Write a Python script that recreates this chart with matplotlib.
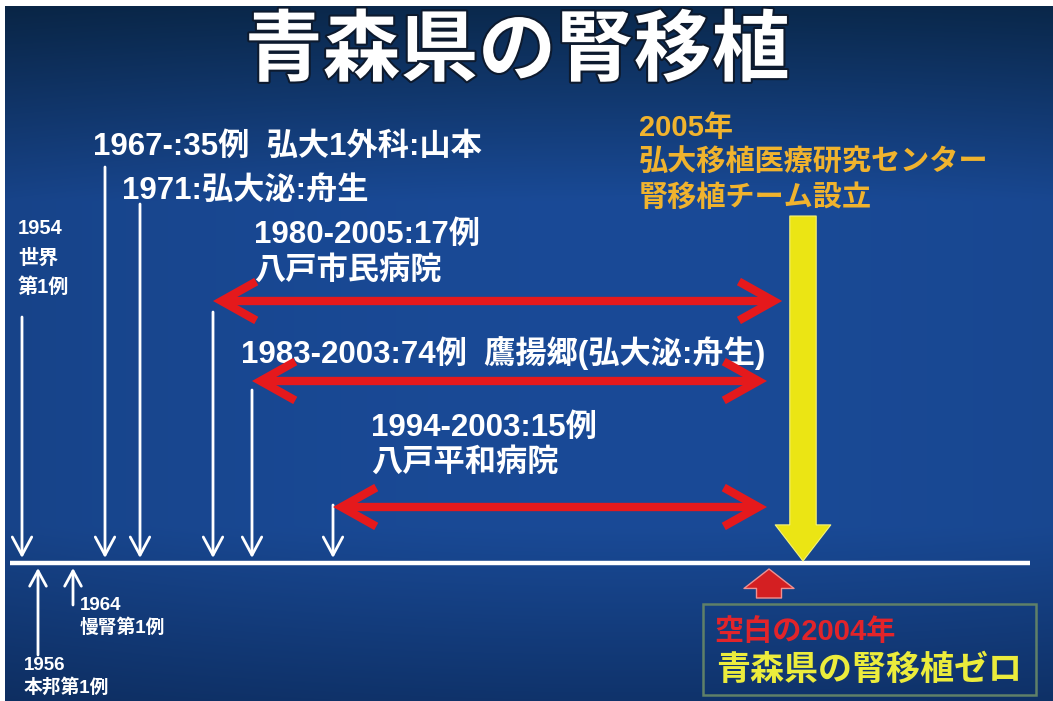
import numpy as np
import matplotlib
matplotlib.use("Agg")
import matplotlib.pyplot as plt
from matplotlib.patches import Rectangle
import matplotlib.patheffects as pe

plt.rcParams['font.family'] = ['Liberation Sans', 'Noto Sans CJK JP', 'DejaVu Sans']
CJK = ['Noto Sans CJK JP', 'DejaVu Sans']

# ---------------- data ----------------
title = "青森県の腎移植"
down_years = [1954, 1967, 1971, 1980, 1983, 1994]
up_years = [1956, 1964]
span_starts = [1980, 1983, 1994]
span_ends = [2005, 2003, 2003]
team_year = 2005
gap_year = 2004

label_1954 = ["1954", "世界", "第1例"]
label_1967 = "1967-:35例  弘大1外科:山本"
label_1971 = "1971:弘大泌:舟生"
label_1980 = ["1980-2005:17例", "八戸市民病院"]
label_1983 = "1983-2003:74例  鷹揚郷(弘大泌:舟生)"
label_1994 = ["1994-2003:15例", "八戸平和病院"]
label_1956 = ["1956", "本邦第1例"]
label_1964 = ["1964", "慢腎第1例"]
label_2005 = ["2005年", "弘大移植医療研究センター", "腎移植チーム設立"]
label_gap = "空白の2004年"
label_zero = "青森県の腎移植ゼロ"

# ---------------- timeline scale (non-proportional slide timeline) ----------------
knot_year = np.array([1940, 1954, 1956, 1964, 1967, 1971, 1980, 1983, 1994, 2003, 2004, 2005, 2030], float)
knot_pos = np.array([-90, 22, 38, 73, 105, 140, 213, 252, 333, 767, 769, 803, 1200], float)

def fwd(y):
    return np.interp(y, knot_year, knot_pos)

def inv(p):
    return np.interp(p, knot_pos, knot_year)

W, H = 1053, 701
fig = plt.figure(figsize=(W / 100, H / 100), dpi=100, facecolor='white')

# background axes in pixel coordinates
bg = fig.add_axes([0, 0, 1, 1])
bg.set_xlim(0, W)
bg.set_ylim(H, 0)
bg.axis('off')

ny, nx = 350, 520
yy, xx = np.mgrid[0:1:ny * 1j, 0:1:nx * 1j]
top = np.array([0.04, 0.16, 0.30])
mid = np.array([0.10, 0.29, 0.59])
bot = np.array([0.06, 0.20, 0.42])
t1 = np.clip(yy / 0.28, 0, 1)[..., None]
t2 = np.clip((yy - 0.75) / 0.25, 0, 1)[..., None]
img = top * (1 - t1) + mid * t1
img = img * (1 - t2) + bot * t2
vign = 1 - 0.25 * ((xx - 0.6) ** 2)[..., None]
img = np.clip(img * vign, 0, 1)
bg.imshow(img, extent=(5, W, H, 6), aspect='auto', zorder=0, interpolation='bilinear')

# main axes with timeline scale
ax = fig.add_axes([0, 0, 1, 1], facecolor='none')
ax.set_xscale('function', functions=(fwd, inv))
ax.set_xlim(inv(0), inv(W))
ax.set_ylim(H, 0)
ax.axis('off')

# baseline
base_y = 563
ax.plot([inv(10), inv(1030)], [base_y, base_y], color='white', lw=3.2, solid_capstyle='butt', zorder=3)

# white down arrows
down_tops = [317, 167, 204, 312, 390, 505]
for yr, ytop in zip(down_years, down_tops):
    ax.annotate('', xy=(yr, base_y - 5), xytext=(yr, ytop),
                arrowprops=dict(arrowstyle='->,head_length=0.65,head_width=0.35',
                                color='white', lw=2.0, mutation_scale=20,
                                shrinkA=0, shrinkB=0), zorder=4)

# white up arrows
up_bottoms = [655, 605]
for yr, yb in zip(up_years, up_bottoms):
    ax.annotate('', xy=(yr, base_y + 5), xytext=(yr, yb),
                arrowprops=dict(arrowstyle='->,head_length=0.55,head_width=0.3',
                                color='white', lw=2.0, mutation_scale=20,
                                shrinkA=0, shrinkB=0), zorder=4)

# red double arrows
red = '#e5191c'
span_y = [301, 381, 507]
span_shrinkB = [15, 0, 0]
for s, e, y, sb in zip(span_starts, span_ends, span_y, span_shrinkB):
    ax.annotate('', xy=(e, y), xytext=(s, y),
                arrowprops=dict(arrowstyle='<->,head_length=1.25,head_width=0.7',
                                color=red, lw=6, mutation_scale=20,
                                shrinkA=0, shrinkB=sb, joinstyle='miter',
                                capstyle='butt'), zorder=5)

# yellow arrow (2005)
ax.annotate('', xy=(team_year, base_y - 2), xytext=(team_year, 216),
            arrowprops=dict(arrowstyle='simple,head_length=2.6,head_width=4.0,tail_width=1.9',
                            fc='#ebe514', ec='#f6f27a', lw=0.8, mutation_scale=10,
                            shrinkA=0, shrinkB=0), zorder=5)

# red up arrow (2004)
ax.annotate('', xy=(gap_year, base_y + 6), xytext=(gap_year, 598),
            arrowprops=dict(arrowstyle='simple,head_length=1.4,head_width=3.6,tail_width=1.8',
                            fc='#d41f22', ec='#f09090', lw=1.0, mutation_scale=10,
                            shrinkA=0, shrinkB=0), zorder=5)

# ---------------- texts ----------------
wfont = dict(color='white', fontweight='bold', va='center', ha='left', zorder=6)
bg.text(517, 52, title, fontsize=56, ha='center', va='center', color='white', fontweight='bold',
        family=CJK, path_effects=[pe.withStroke(linewidth=3, foreground='#0d1a2e')], zorder=6)

fs = 22.5
bg.text(93, 147, label_1967, fontsize=fs, **wfont)
bg.text(122, 191, label_1971, fontsize=fs, **wfont)
bg.text(254, 235, label_1980[0], fontsize=fs, **wfont)
bg.text(254, 271, label_1980[1], fontsize=fs, **wfont)
bg.text(241, 353, label_1983, fontsize=fs, **wfont)
bg.text(371, 428, label_1994[0], fontsize=fs, **wfont)
bg.text(371, 463, label_1994[1], fontsize=fs, **wfont)

for txt, y in zip(label_1954, [228, 258, 287]):
    bg.text(18, y, txt, fontsize=14.5, **wfont)
for txt, y in zip(label_1964, [605, 628]):
    bg.text(80, y, txt, fontsize=13.5, **wfont)
for txt, y in zip(label_1956, [665, 688]):
    bg.text(24, y, txt, fontsize=13.5, **wfont)

gold = '#f0b32e'
for txt, y in zip(label_2005, [128, 163, 198]):
    bg.text(639, y, txt, fontsize=21, color=gold, fontweight='bold', va='center', ha='left', zorder=6)

# box
bg.add_patch(Rectangle((703, 604), 333, 91, fill=False, ec='#5f8068', lw=1.8, zorder=5))
bg.text(714, 632, label_gap, fontsize=21, color='#e2242a', fontweight='bold', va='center', ha='left', zorder=6)
bg.text(716, 671, label_zero, fontsize=24.5, color='#ecec3c', fontweight='bold', va='center', ha='left',
        style='italic', zorder=6)

fig.savefig('out.png', dpi=100, facecolor='white')
